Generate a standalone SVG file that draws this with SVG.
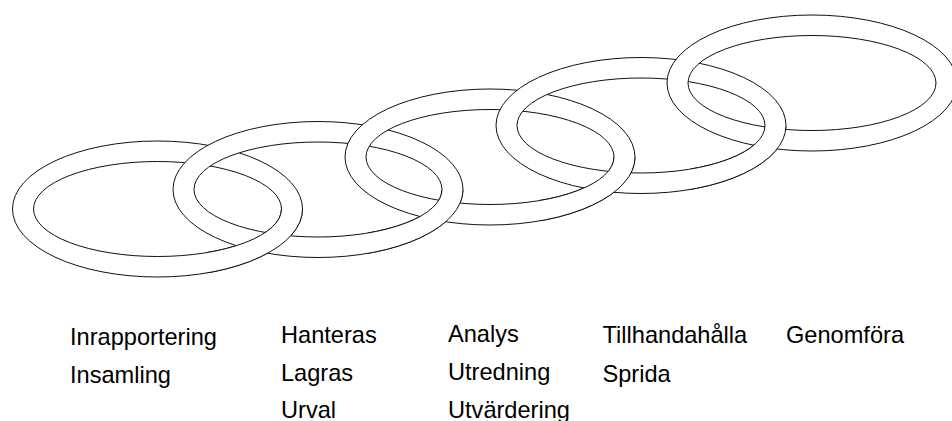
<svg xmlns="http://www.w3.org/2000/svg" width="952" height="421" viewBox="0 0 952 421">
<style>
.lbl{font-family:"Liberation Sans",Arial,sans-serif;font-size:23.6px;fill:#000}
.ring{fill:#fff;fill-rule:evenodd;stroke:#111;stroke-width:1}
</style>
<defs>
<path id="ring" class="ring" d="M-145,0 A145,68 0 1,0 145,0 A145,68 0 1,0 -145,0 Z M-124,0 A124,47.5 0 1,0 124,0 A124,47.5 0 1,0 -124,0 Z"/>
<clipPath id="c1"><rect x="207" y="209" width="125" height="80"/></clipPath>
<clipPath id="c2"><rect x="368" y="189.5" width="125" height="80"/></clipPath>
<clipPath id="c3"><rect x="540" y="157" width="125" height="80"/></clipPath>
<clipPath id="c4"><rect x="691" y="125.5" width="125" height="80"/></clipPath>
</defs>
<g id="rings">
<g id="ring1"><use href="#ring" transform="translate(157.5,209)"/></g>
<g id="ring2"><use href="#ring" transform="translate(318,189.5)"/></g>
<g id="ring3"><use href="#ring" transform="translate(490,157)"/></g>
<g id="ring4"><use href="#ring" transform="translate(641,125.5)"/></g>
<g id="ring5"><use href="#ring" transform="translate(812,83)"/></g>
</g>
<g id="weave">
<g clip-path="url(#c1)"><use href="#ring" transform="translate(157.5,209)"/></g>
<g clip-path="url(#c2)"><use href="#ring" transform="translate(318,189.5)"/></g>
<g clip-path="url(#c3)"><use href="#ring" transform="translate(490,157)"/></g>
<g clip-path="url(#c4)"><use href="#ring" transform="translate(641,125.5)"/></g>
</g>
<g id="label1">
<text class="lbl" x="70" y="345">Inrapportering</text>
<text class="lbl" x="70" y="383">Insamling</text>
</g>
<g id="label2">
<text class="lbl" x="281" y="343">Hanteras</text>
<text class="lbl" x="281" y="381">Lagras</text>
<text class="lbl" x="281" y="418">Urval</text>
</g>
<g id="label3">
<text class="lbl" x="448" y="342">Analys</text>
<text class="lbl" x="448" y="380">Utredning</text>
<text class="lbl" x="448" y="418">Utvärdering</text>
</g>
<g id="label4">
<text class="lbl" x="602.5" y="343">Tillhandahålla</text>
<text class="lbl" x="602.5" y="382">Sprida</text>
</g>
<g id="label5">
<text class="lbl" x="786" y="343">Genomföra</text>
</g>
</svg>
